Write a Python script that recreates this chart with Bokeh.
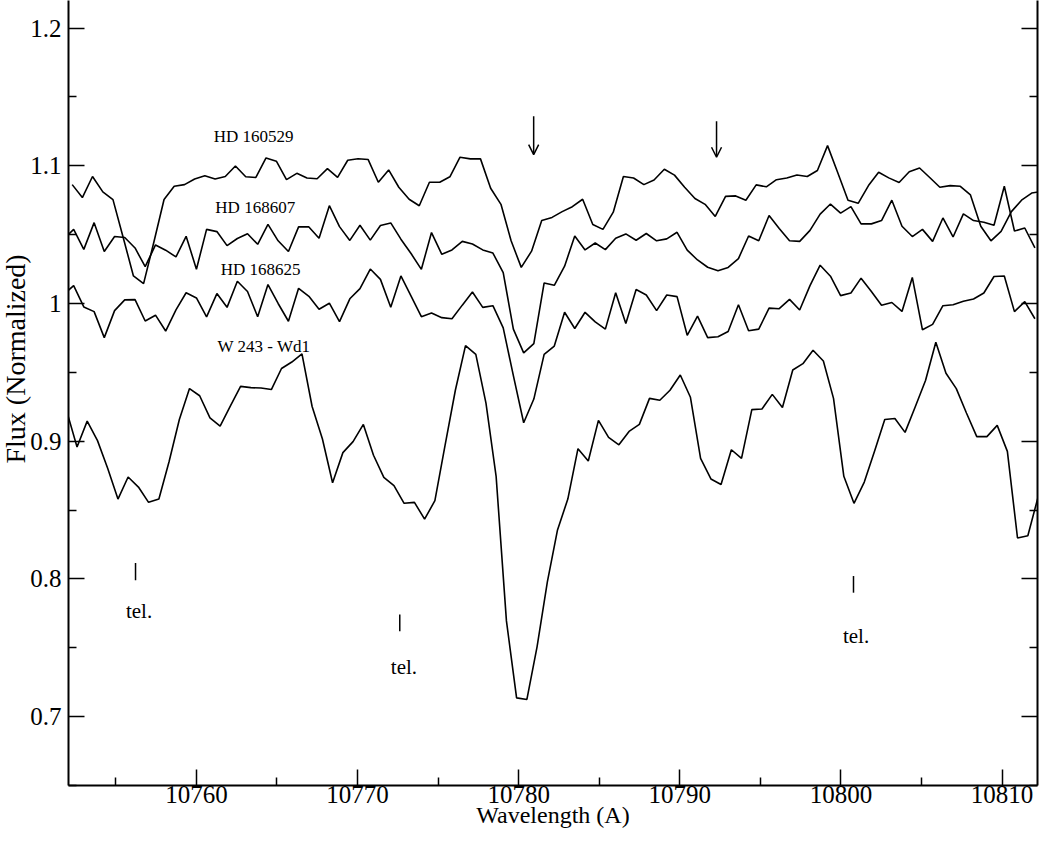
from bokeh.plotting import figure
from bokeh.models import Range1d, FixedTicker, LinearAxis, Arrow, OpenHead, Title
from bokeh.embed import file_html
from bokeh.resources import INLINE
from bokeh.core.properties import value

# ---------------- data ----------------
wl_hd160529 = [
    10752.29, 10752.92, 10753.55, 10754.19, 10754.82, 10755.45, 10756.09, 10756.72, 10757.36, 10757.99,
    10758.62, 10759.26, 10759.89, 10760.52, 10761.16, 10761.79, 10762.42, 10763.06, 10763.69, 10764.32,
    10764.96, 10765.59, 10766.23, 10766.86, 10767.49, 10768.13, 10768.76, 10769.39, 10770.03, 10770.66,
    10771.29, 10771.93, 10772.56, 10773.20, 10773.83, 10774.46, 10775.10, 10775.73, 10776.36, 10777.00,
    10777.63, 10778.26, 10778.90, 10779.53, 10780.16, 10780.80, 10781.43, 10782.07, 10782.70, 10783.33,
    10783.97, 10784.60, 10785.23, 10785.87, 10786.50, 10787.13, 10787.77, 10788.40, 10789.04, 10789.67,
    10790.30, 10790.94, 10791.57, 10792.20, 10792.84, 10793.47, 10794.10, 10794.74, 10795.37, 10796.00,
    10796.64, 10797.27, 10797.91, 10798.54, 10799.17, 10799.81, 10800.44, 10801.07, 10801.71, 10802.34,
    10802.97, 10803.61, 10804.24, 10804.88, 10805.51, 10806.14, 10806.78, 10807.41, 10808.04, 10808.68,
    10809.31, 10809.94, 10810.58, 10811.21, 10811.84, 10812.48]
flux_hd160529 = [
    1.0863, 1.0769, 1.0922, 1.0810, 1.0754, 1.0481, 1.0200, 1.0144, 1.0446, 1.0755,
    1.0851, 1.0863, 1.0904, 1.0927, 1.0904, 1.0922, 1.0998, 1.0920, 1.0915, 1.1057,
    1.1033, 1.0899, 1.0945, 1.0911, 1.0906, 1.0979, 1.0916, 1.1040, 1.1051, 1.1045,
    1.0880, 1.0970, 1.0844, 1.0757, 1.0710, 1.0880, 1.0880, 1.0920, 1.1062, 1.1050,
    1.1050, 1.0837, 1.0720, 1.0455, 1.0262, 1.0380, 1.0602, 1.0625, 1.0667, 1.0703,
    1.0757, 1.0573, 1.0538, 1.0663, 1.0922, 1.0911, 1.0863, 1.0897, 1.0975, 1.0932,
    1.0844, 1.0762, 1.0720, 1.0632, 1.0778, 1.0781, 1.0750, 1.0861, 1.0847, 1.0899,
    1.0911, 1.0933, 1.0922, 1.0966, 1.1146, 1.0948, 1.0750, 1.0727, 1.0856, 1.0953,
    1.0912, 1.0878, 1.0957, 1.0984, 1.0915, 1.0844, 1.0856, 1.0851, 1.0788, 1.0561,
    1.0455, 1.0524, 1.0667, 1.0750, 1.0802, 1.0814]

wl_hd1686 = [
    10751.75, 10752.38, 10753.01, 10753.65, 10754.28, 10754.92, 10755.55, 10756.19, 10756.82, 10757.46,
    10758.09, 10758.73, 10759.36, 10760.00, 10760.63, 10761.27, 10761.90, 10762.54, 10763.17, 10763.80,
    10764.44, 10765.07, 10765.71, 10766.34, 10766.98, 10767.61, 10768.25, 10768.88, 10769.52, 10770.15,
    10770.79, 10771.42, 10772.06, 10772.69, 10773.33, 10773.96, 10774.59, 10775.23, 10775.86, 10776.50,
    10777.13, 10777.77, 10778.40, 10779.04, 10779.67, 10780.31, 10780.94, 10781.58, 10782.21, 10782.85,
    10783.48, 10784.12, 10784.75, 10785.38, 10786.02, 10786.65, 10787.29, 10787.92, 10788.56, 10789.19,
    10789.83, 10790.46, 10791.10, 10791.73, 10792.37, 10793.00, 10793.64, 10794.27, 10794.90, 10795.54,
    10796.17, 10796.81, 10797.44, 10798.08, 10798.71, 10799.35, 10799.98, 10800.62, 10801.25, 10801.89,
    10802.52, 10803.16, 10803.79, 10804.43, 10805.06, 10805.69, 10806.33, 10806.96, 10807.60, 10808.23,
    10808.87, 10809.50, 10810.14, 10810.77, 10811.41, 10812.04]
flux_hd168607 = [
    1.0467, 1.0538, 1.0393, 1.0587, 1.0377, 1.0486, 1.0479, 1.0403, 1.0267, 1.0425,
    1.0387, 1.0338, 1.0488, 1.0249, 1.0538, 1.0522, 1.0420, 1.0472, 1.0506, 1.0430,
    1.0575, 1.0455, 1.0377, 1.0556, 1.0556, 1.0474, 1.0710, 1.0558, 1.0458, 1.0568,
    1.0460, 1.0566, 1.0585, 1.0467, 1.0361, 1.0248, 1.0515, 1.0357, 1.0389, 1.0451,
    1.0432, 1.0389, 1.0366, 1.0224, 0.9814, 0.9641, 0.9708, 1.0149, 1.0132, 1.0271,
    1.0490, 1.0389, 1.0439, 1.0391, 1.0474, 1.0505, 1.0459, 1.0508, 1.0455, 1.0469,
    1.0517, 1.0387, 1.0316, 1.0263, 1.0238, 1.0262, 1.0326, 1.0490, 1.0455, 1.0639,
    1.0545, 1.0455, 1.0451, 1.0531, 1.0649, 1.0722, 1.0656, 1.0703, 1.0578, 1.0578,
    1.0602, 1.0750, 1.0561, 1.0486, 1.0538, 1.0451, 1.0621, 1.0483, 1.0651, 1.0602,
    1.0590, 1.0568, 1.0851, 1.0526, 1.0548, 1.0403]
flux_hd168625 = [
    1.0064, 1.0130, 0.9975, 0.9941, 0.9752, 0.9948, 1.0026, 1.0028, 0.9873, 0.9915,
    0.9800, 0.9954, 1.0078, 1.0040, 0.9903, 1.0072, 0.9972, 1.0161, 1.0087, 0.9904,
    1.0137, 1.0000, 0.9871, 1.0110, 1.0052, 0.9958, 1.0002, 0.9868, 1.0034, 1.0108,
    1.0250, 1.0175, 0.9972, 1.0200, 1.0052, 0.9904, 0.9931, 0.9897, 0.9889, 0.9988,
    1.0083, 0.9972, 0.9984, 0.9823, 0.9476, 0.9134, 0.9306, 0.9630, 0.9691, 0.9936,
    0.9818, 0.9936, 0.9866, 0.9814, 1.0078, 0.9854, 1.0101, 1.0062, 0.9948, 1.0062,
    1.0050, 0.9769, 0.9908, 0.9752, 0.9759, 0.9797, 0.9991, 0.9802, 0.9814, 0.9966,
    0.9962, 1.0030, 0.9953, 1.0130, 1.0278, 1.0198, 1.0057, 1.0076, 1.0184, 1.0087,
    0.9987, 1.0007, 0.9942, 1.0189, 0.9809, 0.9848, 0.9984, 0.9991, 1.0016, 1.0033,
    1.0076, 1.0196, 1.0200, 0.9941, 1.0013, 0.9889]

wl_w243 = [
    10751.96, 10752.59, 10753.22, 10753.86, 10754.49, 10755.13, 10755.76, 10756.40, 10757.03, 10757.67,
    10758.30, 10758.94, 10759.57, 10760.20, 10760.84, 10761.47, 10762.11, 10762.74, 10763.38, 10764.01,
    10764.65, 10765.28, 10765.92, 10766.55, 10767.18, 10767.82, 10768.45, 10769.09, 10769.72, 10770.36,
    10770.99, 10771.63, 10772.26, 10772.89, 10773.53, 10774.16, 10774.80, 10775.43, 10776.07, 10776.70,
    10777.34, 10777.97, 10778.60, 10779.24, 10779.87, 10780.51, 10781.14, 10781.78, 10782.41, 10783.05,
    10783.68, 10784.32, 10784.95, 10785.58, 10786.22, 10786.85, 10787.49, 10788.12, 10788.76, 10789.39,
    10790.03, 10790.66, 10791.29, 10791.93, 10792.56, 10793.20, 10793.83, 10794.47, 10795.10, 10795.74,
    10796.37, 10797.01, 10797.64, 10798.27, 10798.91, 10799.54, 10800.18, 10800.81, 10801.45, 10802.08,
    10802.72, 10803.35, 10803.98, 10804.62, 10805.25, 10805.89, 10806.52, 10807.16, 10807.79, 10808.43,
    10809.06, 10809.70, 10810.33, 10810.96, 10811.60, 10812.23]
flux_w243 = [
    0.9214, 0.8958, 0.9146, 0.9004, 0.8804, 0.8580, 0.8740, 0.8667, 0.8556, 0.8580,
    0.8851, 0.9158, 0.9382, 0.9330, 0.9170, 0.9110, 0.9257, 0.9398, 0.9389, 0.9386,
    0.9375, 0.9528, 0.9575, 0.9634, 0.9252, 0.9016, 0.8698, 0.8917, 0.8997, 0.9122,
    0.8898, 0.8737, 0.8677, 0.8549, 0.8556, 0.8434, 0.8568, 0.8969, 0.9370, 0.9694,
    0.9630, 0.9276, 0.8745, 0.7695, 0.7136, 0.7125, 0.7507, 0.7978, 0.8356, 0.8580,
    0.8946, 0.8856, 0.9151, 0.9028, 0.8974, 0.9071, 0.9122, 0.9311, 0.9297, 0.9370,
    0.9481, 0.9319, 0.8875, 0.8726, 0.8686, 0.8938, 0.8875, 0.9229, 0.9234, 0.9340,
    0.9245, 0.9517, 0.9563, 0.9660, 0.9582, 0.9311, 0.8745, 0.8549, 0.8703, 0.8926,
    0.9158, 0.9165, 0.9064, 0.9252, 0.9441, 0.9719, 0.9493, 0.9382, 0.9205, 0.9033,
    0.9033, 0.9115, 0.8926, 0.8297, 0.8314, 0.8592]

star_names = ["HD 160529", "HD 168607", "HD 168625", "W 243 - Wd1"]
x_ticks = [10760, 10770, 10780, 10790, 10800, 10810]
x_minor = [10755, 10765, 10775, 10785, 10795, 10805]
y_ticks = [0.7, 0.8, 0.9, 1.0, 1.1, 1.2]
y_tick_labels = ["0.7", "0.8", "0.9", "1", "1.1", "1.2"]
y_minor = [0.65, 0.75, 0.85, 0.95, 1.05, 1.15]
x_title = "Wavelength (A)"
y_title = "Flux (Normalized)"
tel_label = "tel."
tel_wavelengths = [10756.22, 10772.62, 10800.78]
arrow_wavelengths = [10780.93, 10792.28]

# ---------------- figure ----------------
FONT = "Liberation Serif"
X0, X1 = 10752.06, 10812.2
Y0, Y1 = 0.65, 1.22
p = figure(width=1040, height=830, output_backend="svg", toolbar_location=None,
           x_range=Range1d(X0, X1), y_range=Range1d(Y0, Y1),
           min_border_left=68, min_border_right=3, min_border_top=0, min_border_bottom=41)
p.outline_line_color = None
p.xgrid.grid_line_color = None
p.ygrid.grid_line_color = None
p.background_fill_color = "white"
p.border_fill_color = "white"

def style_axis(ax):
    ax.axis_line_width = 2
    ax.axis_line_color = "black"
    ax.major_tick_in = 16
    ax.major_tick_out = 0
    ax.minor_tick_in = 8
    ax.minor_tick_out = 0
    ax.major_tick_line_width = 1.5
    ax.minor_tick_line_width = 1.5
    ax.major_tick_line_color = "black"
    ax.minor_tick_line_color = "black"
    ax.major_label_text_font = FONT
    ax.major_label_text_font_size = "25px"
    ax.major_label_text_color = "black"
    ax.axis_label_text_font = FONT
    ax.axis_label_text_font_size = "24px"
    ax.axis_label_text_font_style = "normal"
    ax.axis_label_text_color = "black"

xax = p.xaxis[0]
xax.ticker = FixedTicker(ticks=x_ticks, minor_ticks=x_minor)
style_axis(xax)
xax.major_label_standoff = 0
xax.axis_label = x_title
xax.axis_label_standoff = -4

yax = p.yaxis[0]
yax.ticker = FixedTicker(ticks=y_ticks, minor_ticks=y_minor)
style_axis(yax)
yax.major_label_overrides = dict(zip(y_ticks, y_tick_labels))
yax.major_label_standoff = 7

rax = LinearAxis(ticker=FixedTicker(ticks=y_ticks, minor_ticks=y_minor))
style_axis(rax)
rax.major_label_overrides = {t: "" for t in y_ticks}
rax.major_label_text_font_size = "1px"
rax.major_label_standoff = 0
p.add_layout(rax, "right")

# y title as a side title, starting partway up the axis like the reference
p.add_layout(Title(text=y_title, align="left", offset=322, standoff=-6,
                   text_font=FONT, text_font_size="28px", text_font_style="normal",
                   text_color="black"), "left")

# ---------------- spectra ----------------
for wl, fl in [(wl_hd160529, flux_hd160529), (wl_hd1686, flux_hd168607),
               (wl_hd1686, flux_hd168625), (wl_w243, flux_w243)]:
    p.line(wl, fl, line_color="black", line_width=1.6)

# star labels
p.text(x=[10763.55, 10763.65, 10763.98, 10764.2], y=[1.121, 1.0697, 1.0248, 0.9689],
       text=star_names, text_font=value(FONT), text_font_size="17px",
       text_align="center", text_baseline="middle", text_color="black")

# telluric marks
p.segment(x0=tel_wavelengths, y0=[0.8115, 0.7742, 0.8021],
          x1=tel_wavelengths, y1=[0.7990, 0.7620, 0.7900],
          line_color="black", line_width=1.5)
p.text(x=[10756.44, 10772.88, 10800.94], y=[0.7764, 0.7359, 0.7583],
       text=[tel_label] * 3, text_font=value(FONT), text_font_size="21px",
       text_align="center", text_baseline="middle", text_color="black")

# arrows
for xa, (ys, ye) in zip(arrow_wavelengths, [(1.1359, 1.1081), (1.1323, 1.1062)]):
    p.add_layout(Arrow(x_start=xa, y_start=ys, x_end=xa, y_end=ye,
                       line_color="black", line_width=1.5,
                       end=OpenHead(size=10, line_color="black", line_width=1.5)))

open("out.html", "w").write(file_html(p, INLINE))
